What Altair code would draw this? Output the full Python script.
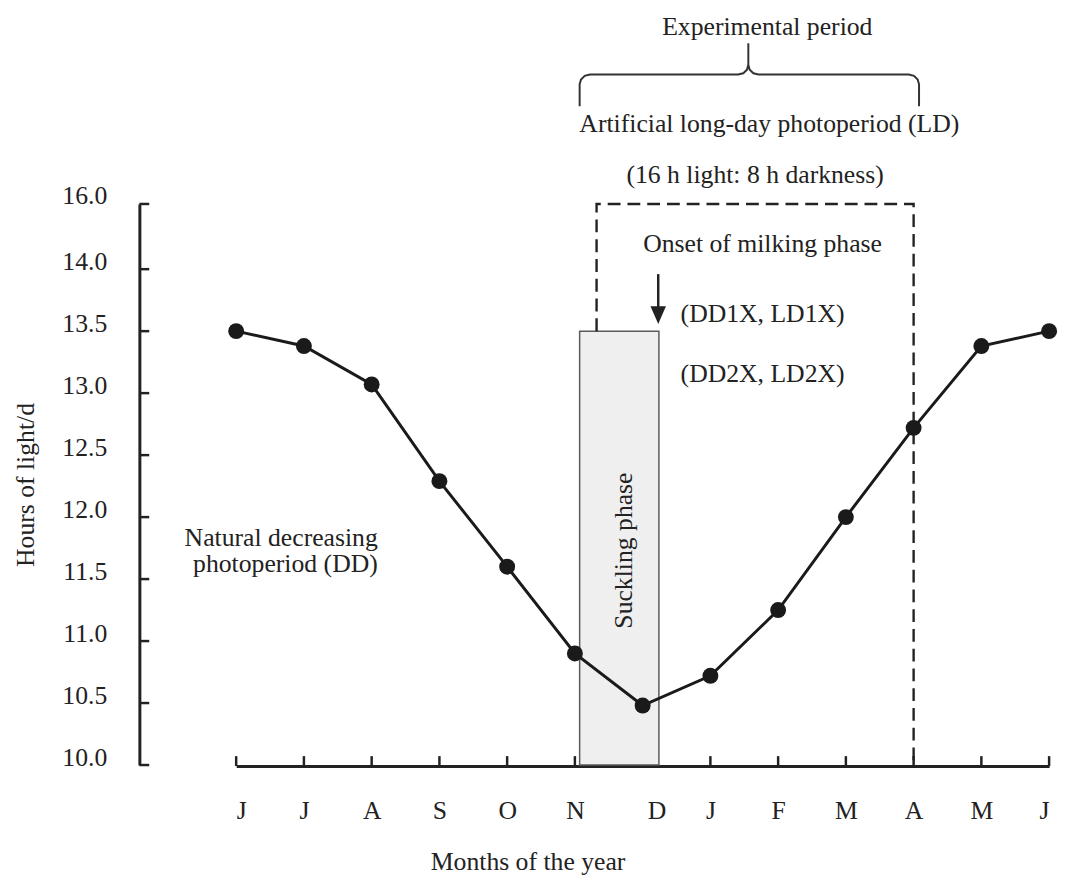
import json
import altair as alt
import pandas as pd

# ---------------- data ----------------
months = ["J", "J", "A", "S", "O", "N", "D", "J", "F", "M", "A", "M", "J"]
hours = [13.5, 13.38, 13.07, 12.29, 11.6, 10.9, 10.48, 10.72, 11.25, 12.0, 12.72, 13.38, 13.5]
y_tick_values = [10.0, 10.5, 11.0, 11.5, 12.0, 12.5, 13.0, 13.5, 14.0, 16.0]

# suckling phase (month index units, hours)
suckling_start, suckling_end, suckling_top = 5.07, 6.24, 13.5
# artificial long-day period (dashed box)
ld_start, ld_end, ld_top, ld_bottom_left, ld_bottom_right = 5.32, 10.0, 16.0, 13.5, 10.0

# annotation texts
ann_text = ["Experimental period", "Artificial long-day photoperiod (LD)",
            "(16 h light: 8 h darkness)", "Onset of milking phase",
            "(DD1X, LD1X)", "(DD2X, LD2X)"]
ann_x = [7.84, 7.87, 7.66, 7.77, 6.56, 6.56]
ann_y = [21.19, 18.20, 16.65, 14.52, 13.57, 13.09]
ann_align = ["center", "center", "center", "center", "left", "left"]

dd_label = "Natural decreasing\nphotoperiod (DD)"
dd_x, dd_y = 2.09, 11.77
suck_label = "Suckling phase"
suck_x, suck_y = 5.72, 11.73

# arrow (onset of milking)
arrow_x, arrow_y_top, arrow_y_end, arrow_head_y = 6.23, 13.96, 13.66, 13.63

# brace over the experimental period
brace_x = [5.07, 5.07, 5.09, 5.145, 5.22, 7.41, 7.485, 7.54, 7.56, 7.56,
           7.56, 7.58, 7.635, 7.71, 9.93, 10.005, 10.06, 10.08, 10.08]
brace_y = [19.0, 19.67, 19.82, 19.93, 19.97, 19.97, 20.01, 20.12, 20.27, 20.93,
           20.27, 20.12, 20.01, 19.97, 19.97, 19.93, 19.82, 19.67, 19.0]

# ---------------- style ----------------
FONT = "Liberation Serif"
FS = 26
INK = "#222222"
W, H = 921, 757

x_scale = alt.Scale(domain=[0, 12], range=[98, 921], nice=False, zero=False)
y_scale = alt.Scale(domain=[10, 14, 16], range=[756, 254, 188], nice=False, zero=False)

x_axis = alt.Axis(
    values=list(range(len(months))),
    labelExpr=f"{json.dumps(months)}[datum.value]",
    ticks=False, tickSize=0, grid=False,
    domainWidth=3, domainColor=INK,
    labelFont=FONT, labelFontSize=FS, labelColor=INK,
    labelPadding=32,
    labelOffset={"condition": {"test": "datum.value === 6", "value": 14}, "value": 0},
    title="Months of the year", titleFont=FONT, titleFontSize=FS,
    titleFontWeight="normal", titleColor=INK,
    titleX=393, titleY=84,
)
y_axis = alt.Axis(
    values=y_tick_values, format=".1f",
    ticks=False, tickSize=0, grid=False,
    domainWidth=3, domainColor=INK,
    labelFont=FONT, labelFontSize=FS, labelColor=INK,
    labelPadding=33, labelOffset=-8,
    title="Hours of light/d", titleFont=FONT, titleFontSize=FS,
    titleFontWeight="normal", titleColor=INK,
    titleX=-102, titleY=472,
)


def X(field):
    return alt.X(field, type="quantitative", scale=x_scale, axis=x_axis)


def Y(field):
    return alt.Y(field, type="quantitative", scale=y_scale, axis=y_axis)


main_df = pd.DataFrame({"idx": list(range(len(months))), "month": months, "hours": hours})
ytick_df = pd.DataFrame({"v": y_tick_values})
bar_df = pd.DataFrame({"x0": [suckling_start], "x1": [suckling_end],
                       "y0": [10.0], "y1": [suckling_top]})
ld_df = pd.DataFrame({"o": [0, 1, 2, 3],
                      "x": [ld_start, ld_start, ld_end, ld_end],
                      "y": [ld_bottom_left, ld_top, ld_top, ld_bottom_right]})
brace_df = pd.DataFrame({"o": list(range(len(brace_x))), "x": brace_x, "y": brace_y})
arrow_df = pd.DataFrame({"x": [arrow_x], "y": [arrow_y_top], "y2": [arrow_y_end],
                         "hy": [arrow_head_y]})

layers = []

# x-axis ticks (pointing up); none is visible inside the suckling bar
layers.append(alt.Chart(main_df).transform_filter(
    f"datum.idx < {suckling_start} || datum.idx > {suckling_end}"
).mark_rule(color=INK, strokeWidth=2.5).encode(
    x=X("idx"), y=alt.value(H), y2=alt.value(H - 10)))
# y-axis ticks (pointing right)
layers.append(alt.Chart(ytick_df).mark_rule(color=INK, strokeWidth=2.5).encode(
    y=Y("v"), x=alt.value(0), x2=alt.value(10)))
# suckling phase bar
layers.append(alt.Chart(bar_df).mark_rect(fill="#efefef", stroke="#5a5a5a", strokeWidth=1.5).encode(
    x=X("x0"), x2="x1", y=Y("y0"), y2="y1"))
# dashed long-day box
layers.append(alt.Chart(ld_df).mark_line(color=INK, strokeWidth=2.4, strokeDash=[13, 7]).encode(
    x=X("x"), y=Y("y"), order="o:Q"))
# brace
layers.append(alt.Chart(brace_df).mark_line(color="#333333", strokeWidth=2).encode(
    x=X("x"), y=Y("y"), order="o:Q"))
# photoperiod curve
layers.append(alt.Chart(main_df).mark_line(color="#1a1a1a", strokeWidth=3).encode(
    x=X("idx"), y=Y("hours")))
layers.append(alt.Chart(main_df).mark_circle(color="#1a1a1a", size=260, opacity=1).encode(
    x=X("idx"), y=Y("hours")))
# arrow
layers.append(alt.Chart(arrow_df).mark_rule(color=INK, strokeWidth=2.5).encode(
    x=X("x"), y=Y("y"), y2="y2"))
layers.append(alt.Chart(arrow_df).mark_point(
    shape="M-0.87,-1L0.87,-1L0,1Z", filled=True, size=324, opacity=1, color=INK).encode(
    x=X("x"), y=Y("hy")))

# annotation texts
ann_df = pd.DataFrame({"label": ann_text, "x": ann_x, "y": ann_y, "align": ann_align})
for al in ["center", "left"]:
    sub = ann_df[ann_df["align"] == al]
    layers.append(alt.Chart(sub).mark_text(
        font=FONT, fontSize=FS, color=INK, align=al, baseline="alphabetic").encode(
        x=X("x"), y=Y("y"), text="label:N"))

layers.append(alt.Chart(pd.DataFrame({"label": [dd_label], "x": [dd_x], "y": [dd_y]})).mark_text(
    font=FONT, fontSize=FS, color=INK, align="right", baseline="alphabetic",
    lineBreak="\n", lineHeight=27).encode(x=X("x"), y=Y("y"), text="label:N"))

layers.append(alt.Chart(pd.DataFrame({"label": [suck_label], "x": [suck_x], "y": [suck_y]})).mark_text(
    font=FONT, fontSize=FS, color=INK, align="center", baseline="middle", angle=270).encode(
    x=X("x"), y=Y("y"), text="label:N"))

chart = alt.layer(*layers).properties(
    width=W, height=H,
    padding={"left": 5, "top": 0, "right": 0, "bottom": 0},
    background="white",
).configure_view(strokeWidth=0)

chart.save("out.html", embed_options={"renderer": "svg", "actions": False})
